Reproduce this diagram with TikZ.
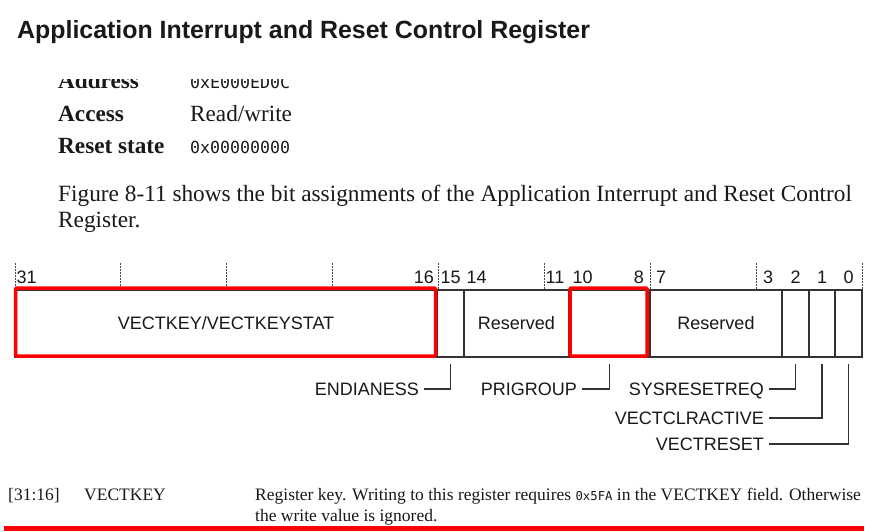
\documentclass[tikz,border=0pt]{standalone}
\usepackage{fontspec}
\setmainfont{Liberation Serif}
\setsansfont{Liberation Sans}
\setmonofont{DejaVu Sans Mono}
\begin{document}
\begin{tikzpicture}[x=1pt,y=-1pt,
  txt/.style={inner sep=0pt, anchor=base west, text=black!90},
  bitlab/.style={inner sep=0pt, font=\sffamily\fontsize{18}{20}\selectfont, text=black!90},
  sanslab/.style={inner sep=0pt, font=\sffamily\fontsize{18}{20}\selectfont, text height=12.9pt, text depth=0pt, text=black!90},
  field/.style={draw=black!80, line width=1.2pt, rectangle, minimum height=67pt, inner sep=0pt, font=\sffamily\fontsize{18}{20}\selectfont, text height=12.9pt, text depth=0pt, text=black!90},
  conn/.style={draw=black!80, line width=1.3pt},
  redbox/.style={draw=red, line width=3.5pt, rounded corners=1pt},
  tickline/.style={draw=black!70, line width=0.9pt, dash pattern=on 2pt off 1pt}]
\useasboundingbox (0,0) rectangle (879,532);
\fill[white] (0,0) rectangle (879,532);

% title
\node[txt, font=\sffamily\bfseries\fontsize{24.9}{28}\selectfont] (title) at (17,39) {Application Interrupt and Reset Control Register};

% property rows
\begin{scope}
\clip (0,80) rectangle (879,100);
\node[txt, font=\bfseries\fontsize{23.2}{26}\selectfont] (addrk) at (58,89) {Address};
\node[txt, font=\ttfamily\fontsize{16.6}{20}\selectfont] (addrv) at (190,89) {0xE000ED0C};
\end{scope}
\node[txt, font=\bfseries\fontsize{23.2}{26}\selectfont] (acck) at (58,122) {Access};
\node[txt, font=\fontsize{23.2}{26}\selectfont] (accv) at (190,122) {Read/write};
\node[txt, font=\bfseries\fontsize{23.2}{26}\selectfont] (rstk) at (58,154) {Reset state};
\node[txt, font=\ttfamily\fontsize{16.6}{20}\selectfont] (rstv) at (190,154) {0x00000000};

% paragraph
\node[txt, font=\fontsize{23.3}{27}\selectfont] (p1) at (58,201) {Figure 8-11 shows the bit assignments of the Application Interrupt and Reset Control};
\node[txt, font=\fontsize{23.3}{27}\selectfont] (p2) at (58,228) {Register.};

% ticks
\foreach \k in {0,...,8} \draw[tickline] (15+\k*105.875,263) -- (15+\k*105.875,290);

% bit labels
\node[bitlab, anchor=base west] (b31) at (16.5,283) {31};
\node[bitlab, anchor=base east] (b16) at (434,283) {16};
\node[bitlab, anchor=base west] (b15) at (440.5,283) {15};
\node[bitlab, anchor=base west] (b14) at (466.5,283) {14};
\node[bitlab, anchor=base west] (b11) at (545.5,283) {11};
\node[bitlab, anchor=base west] (b10) at (572.5,283) {10};
\node[bitlab, anchor=base east] (b8) at (644,283) {8};
\node[bitlab, anchor=base west] (b7) at (656,283) {7};
\node[bitlab, anchor=base] (b3) at (768,283) {3};
\node[bitlab, anchor=base] (b2) at (795.5,283) {2};
\node[bitlab, anchor=base] (b1) at (822,283) {1};
\node[bitlab, anchor=base] (b0) at (848.5,283) {0};

% fields
\node[field, minimum width=422pt] (fkey) at (226,323.5) {VECTKEY/VECTKEYSTAT};
\node[field, minimum width=27pt] (f15) at (450.5,323.5) {};
\node[field, minimum width=105pt] (fres1) at (516.5,323.5) {Reserved};
\node[field, minimum width=81pt] (fpri) at (609.5,323.5) {};
\node[field, minimum width=132pt] (fres2) at (716,323.5) {Reserved};
\node[field, minimum width=27pt] (f2) at (795.5,323.5) {};
\node[field, minimum width=26pt] (f1) at (822,323.5) {};
\node[field, minimum width=27pt] (f0) at (848.5,323.5) {};

% red highlight boxes
\draw[redbox] (15.5,288) rectangle (435.5,356);
\draw[redbox] (570,288) rectangle (647,356);

% field name labels and connectors
\node[sanslab, anchor=east] (lend) at (419,389) {ENDIANESS};
\node[sanslab, anchor=east] (lpri) at (577,389) {PRIGROUP};
\node[sanslab, anchor=east] (lsys) at (764,389) {SYSRESETREQ};
\node[sanslab, anchor=east] (lclr) at (764,418) {VECTCLRACTIVE};
\node[sanslab, anchor=east] (lrst) at (764,444) {VECTRESET};
\draw[conn] ([xshift=5pt]lend.east) -| ([yshift=-6.5pt]f15.south);
\draw[conn] ([xshift=5pt]lpri.east) -| ([yshift=-6.5pt]fpri.south);
\draw[conn] ([xshift=5pt]lsys.east) -| ([yshift=-6.5pt]f2.south);
\draw[conn] ([xshift=5pt]lclr.east) -| ([yshift=-6.5pt]f1.south);
\draw[conn] ([xshift=5pt]lrst.east) -| ([yshift=-6.5pt]f0.south);

% bottom table row
\node[txt, font=\fontsize{17.5}{20}\selectfont] (c1) at (8,500) {[31:16]};
\node[txt, font=\fontsize{17.5}{20}\selectfont] (c2) at (84,500) {VECTKEY};
\node[txt, font=\fontsize{17.5}{20}\selectfont] (c3) at (255,500) {Register key. Writing to this register requires {\ttfamily\fontsize{12.3}{14}\selectfont 0x5FA} in the VECTKEY field. Otherwise};
\node[txt, font=\fontsize{17.5}{20}\selectfont] (c4) at (255,521) {the write value is ignored.};
\draw[red, line width=4.5pt] (4,528.5) -- (864,528.5);
\end{tikzpicture}
\end{document}
